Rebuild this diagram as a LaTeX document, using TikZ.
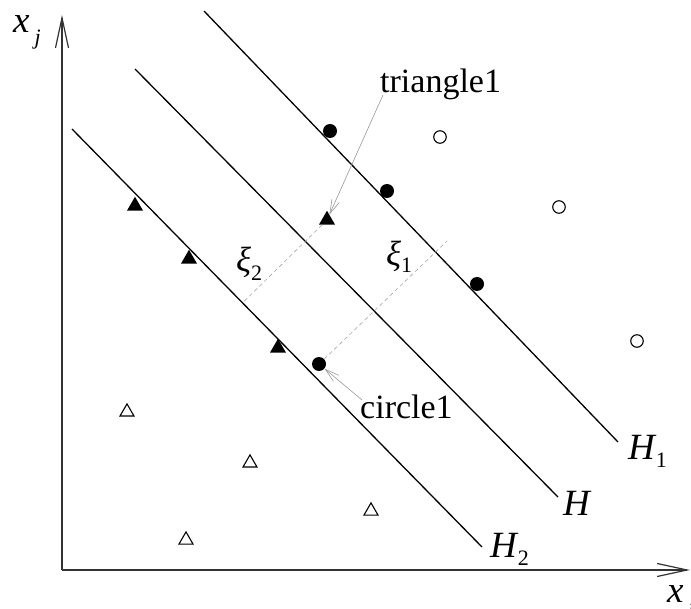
\documentclass[tikz,border=0pt]{standalone}
\usepackage{fontspec}
\setmainfont{Liberation Serif}
\usetikzlibrary{shapes.geometric, arrows.meta, calc}
\newcommand{\subsz}{\fontsize{22}{24}\selectfont}
\newcommand{\xisub}{\fontsize{22}{24}\selectfont\upshape}

\begin{document}
\begin{tikzpicture}[
    x=1pt, y=-1pt,
    axis/.style={line width=1.4pt, draw=black!80, -{Straight Barb[length=30pt, width=13pt, line width=1.2pt]}},
    hplane/.style={line width=1.3pt},
    solidpt/.style={circle, fill=black, inner sep=0pt, minimum size=14pt},
    hollowpt/.style={circle, draw=black, line width=1.1pt, inner sep=0pt, minimum size=12.5pt},
    solidtri/.style={regular polygon, regular polygon sides=3, fill=black, inner sep=0pt, minimum size=18.5pt},
    hollowtri/.style={regular polygon, regular polygon sides=3, draw=black, line width=1.1pt, inner sep=0pt, minimum size=16.2pt},
    slack/.style={draw=gray!70, line width=0.6pt, dash pattern=on 4pt off 3pt},
    pointer/.style={draw=gray!80, line width=0.6pt, -{Straight Barb[length=14pt, width=8pt]}},
    biglbl/.style={inner sep=0pt, anchor=base west, font=\fontsize{37}{40}\selectfont\itshape},
    xilbl/.style={inner sep=0pt, anchor=base west, font=\fontsize{35}{38}\selectfont\itshape},
    txtlbl/.style={inner sep=0pt, anchor=base west, font=\fontsize{34}{36}\selectfont},
]
\useasboundingbox (0,0) rectangle (691,609);

% Axes
\coordinate (O) at (62,570);
\coordinate (ytip) at (62,15);
\coordinate (xtip) at (690,570);
\draw[axis] (O) -- (ytip);
\draw[axis] (O) -- (xtip);
\node[biglbl] (xj) at (13,33) {x\hspace{5pt}\raisebox{-12pt}{\subsz j}};
\node[biglbl] (xi) at (667,602) {x\hspace{5pt}\raisebox{-12pt}{\subsz i}};

% Hyperplanes
\coordinate (h1s) at (204,11);
\coordinate (h1e) at (618,442);
\coordinate (hs) at (135,69);
\coordinate (he) at (558,497);
\coordinate (h2s) at (72,129);
\coordinate (h2e) at (482,547);
\draw[hplane] (h1s) -- (h1e);
\draw[hplane] (hs) -- (he);
\draw[hplane] (h2s) -- (h2e);
\node[biglbl] (lh1) at (628,460) {H\hspace{1pt}\raisebox{-8pt}{\subsz\upshape 1}};
\node[biglbl] (lh) at (563,515) {H};
\node[biglbl] (lh2) at (490,557) {H\hspace{1pt}\raisebox{-8pt}{\subsz\upshape 2}};

% Class +1 (circles)
\node[solidpt] (c2) at (330,131) {};
\node[solidpt] (c3) at (387,191) {};
\node[solidpt] (c4) at (477,284) {};
\node[solidpt] (c1) at (319,364) {};
\node[hollowpt] (o1) at (440,137) {};
\node[hollowpt] (o2) at (559,207) {};
\node[hollowpt] (o3) at (637,341) {};

% Class -1 (triangles)
\node[solidtri] (t2) at (135,206) {};
\node[solidtri] (t3) at (189,259) {};
\node[solidtri] (t4) at (278,348) {};
\node[solidtri] (t1) at (327,220) {};
\node[hollowtri] (u1) at (127,412) {};
\node[hollowtri] (u2) at (250,463) {};
\node[hollowtri] (u3) at (186,540) {};
\node[hollowtri] (u4) at (371,511) {};

% Slack distances
\coordinate (f2) at ($(h2s)!(t1)!(h2e)$);
\coordinate (f1) at ($(h1s)!(c1)!(h1e)$);
\draw[slack] (t1) -- (f2);
\draw[slack] (c1) -- ($(c1)!1.1!(f1)$);
\node[xilbl] (xi2) at (236,272) {ξ\raisebox{-9pt}{\xisub 2}};
\node[xilbl] (xi1) at (386,266) {ξ\raisebox{-7pt}{\xisub 1}};

% Annotations
\node[txtlbl] (ltri) at (380,93) {triangle1};
\node[txtlbl] (lcirc) at (360,419) {circle1};
\draw[pointer] ($(ltri.base west)+(3,2)$) -- (t1);
\draw[pointer] ($(lcirc.base west)+(2,-19)$) -- (c1);

\end{tikzpicture}
\end{document}
